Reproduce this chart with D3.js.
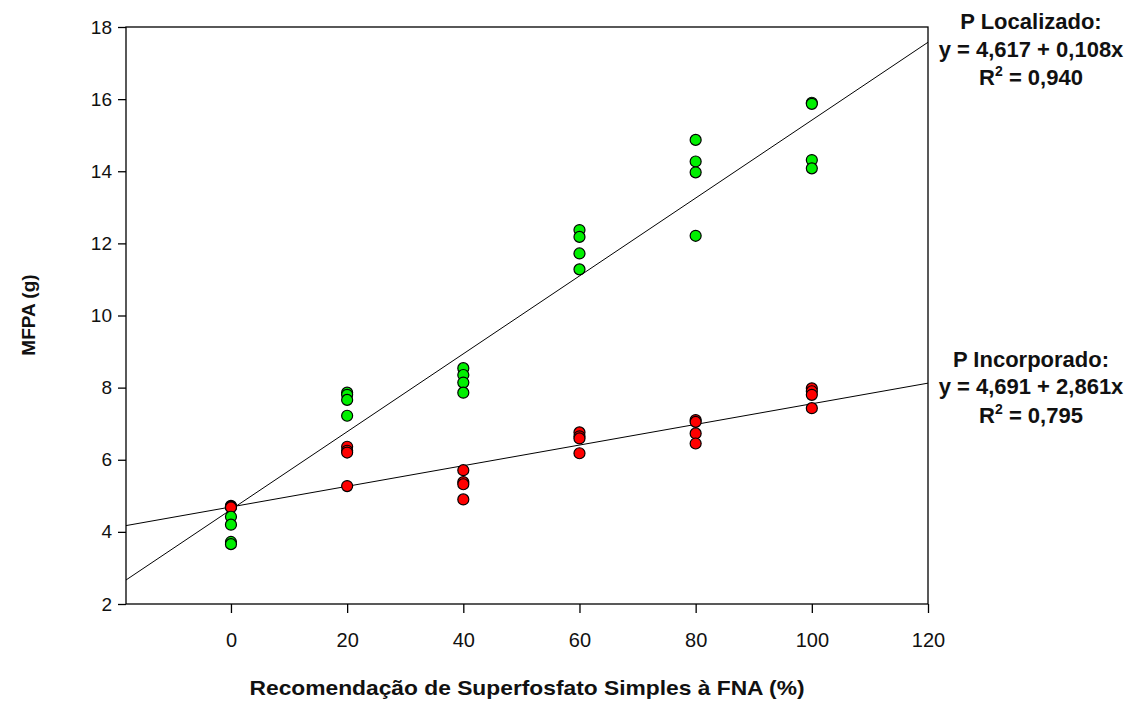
<!DOCTYPE html>
<html><head><meta charset="utf-8">
<script src="https://cdn.jsdelivr.net/npm/d3@7"></script>
<style>body{margin:0;background:#fff}svg{display:block}text{font-family:"Liberation Sans",Arial,sans-serif}</style>
</head><body><svg id="c" width="1138" height="702"></svg>
<script>
const doses = [0, 20, 40, 60, 80, 100];
const localizado = [
  [4.42, 4.20, 3.72, 3.66],
  [7.86, 7.80, 7.66, 7.22],
  [8.54, 8.35, 8.14, 7.86],
  [12.37, 12.18, 11.72, 11.28],
  [14.87, 14.27, 13.97, 12.21],
  [15.90, 15.87, 14.31, 14.08]
];
const incorporado = [
  [4.72, 4.70, 4.69, 4.68],
  [6.36, 6.25, 6.20, 5.27],
  [5.71, 5.38, 5.32, 4.90],
  [6.76, 6.65, 6.59, 6.18],
  [7.10, 7.05, 6.73, 6.45],
  [7.98, 7.90, 7.80, 7.43]
];
const fitLoc = {a: 4.617, b: 0.108};
const fitInc = {a: 4.691, b: 0.02861};
const xTicks = [0, 20, 40, 60, 80, 100, 120];
const yTicks = [2, 4, 6, 8, 10, 12, 14, 16, 18];
const labelsLoc = ["P Localizado:", "y = 4,617 + 0,108x", "0,940"];
const labelsInc = ["P Incorporado:", "y = 4,691 + 2,861x", "0,795"];

const svg = d3.select("#c");
const L = 126, R = 928, T = 27, B = 604;
const x = d3.scaleLinear().domain([-18.07, 120]).range([L, R]);
const y = d3.scaleLinear().domain([2, 18]).range([B, T]);

svg.append("rect").attr("x", L).attr("y", T).attr("width", R - L).attr("height", B - T)
  .attr("fill", "none").attr("stroke", "#000").attr("stroke-width", 1.3);

const xa = svg.append("g").attr("transform", `translate(0,${B})`)
  .call(d3.axisBottom(x).tickValues(xTicks).tickSize(9).tickPadding(20).tickFormat(d3.format("d")));
const ya = svg.append("g").attr("transform", `translate(${L},0)`)
  .call(d3.axisLeft(y).tickValues(yTicks).tickSize(8).tickPadding(6).tickFormat(d3.format("d")));
[xa, ya].forEach(g => {
  g.select(".domain").remove();
  g.selectAll("line").attr("stroke", "#000").attr("stroke-width", 1.3);
});
ya.selectAll("text").style("font-size", "19px").style("fill", "#111")
  .style("font-family", '"Liberation Sans",Arial,sans-serif');
xa.selectAll("text").style("font-size", "20px").style("fill", "#111")
  .style("font-family", '"Liberation Sans Narrow","Liberation Sans",Arial,sans-serif');

const xd = x.domain();
[fitLoc, fitInc].forEach(f => {
  svg.append("line")
    .attr("x1", x(xd[0])).attr("y1", y(f.a + f.b * xd[0]))
    .attr("x2", x(xd[1])).attr("y2", y(f.a + f.b * xd[1]))
    .attr("stroke", "#000").attr("stroke-width", 1);
});

function pts(data, color) {
  const flat = [];
  data.forEach((vals, i) => vals.forEach(v => flat.push({d: doses[i], v})));
  svg.append("g").selectAll("circle").data(flat).join("circle")
    .attr("cx", p => x(p.d)).attr("cy", p => y(p.v)).attr("r", 5.5)
    .attr("fill", color).attr("stroke", "#000").attr("stroke-width", 1.2);
}
pts(incorporado, "#ff0000");
pts(localizado, "#00f000");

svg.append("text").attr("x", 527).attr("y", 695).attr("text-anchor", "middle")
  .style("font-size", "21px").style("font-weight", "bold").style("fill", "#111")
  .style("font-family", '"Liberation Sans Narrow","Liberation Sans",Arial,sans-serif')
  .attr("textLength", 555).attr("lengthAdjust", "spacingAndGlyphs")
  .text("Recomendação de Superfosfato Simples à FNA (%)");
svg.append("text").attr("transform", "translate(35,315) rotate(-90)").attr("text-anchor", "middle")
  .style("font-size", "19px").style("font-weight", "bold").style("fill", "#111").text("MFPA (g)");

function annot(lines, ys) {
  const cx = 1031;
  const base = t => t.attr("x", cx).attr("text-anchor", "middle")
    .style("font-size", "22px").style("font-weight", "bold").style("fill", "#111");
  base(svg.append("text")).attr("y", ys[0]).text(lines[0]);
  base(svg.append("text")).attr("y", ys[1]).text(lines[1]);
  const t = base(svg.append("text")).attr("y", ys[2]);
  t.append("tspan").text("R");
  t.append("tspan").style("font-size", "14px").attr("dy", -9).text("2");
  t.append("tspan").attr("dy", 9).text(" = " + lines[2]);
}
annot(labelsLoc, [29, 57, 85]);
annot(labelsInc, [367, 394, 423]);
</script></body></html>
